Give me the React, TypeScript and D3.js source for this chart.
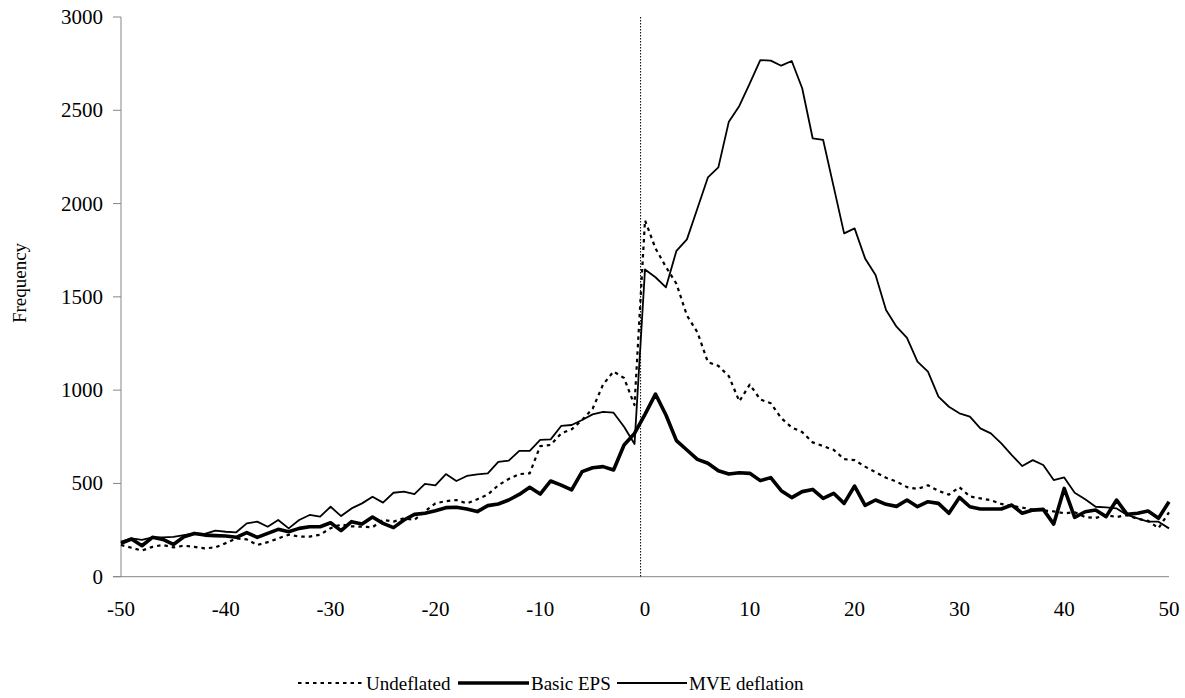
import React from "react";
import * as d3 from "d3";

const xValues: number[] = d3.range(-50, 51);

const undeflated: number[] = [
  170, 155, 140, 160, 170, 157, 166, 160, 152, 157,
  180, 205, 200, 170, 185, 205, 225, 215, 215, 225,
  260, 280, 270, 268, 265, 305, 295, 313, 305, 350,
  393, 405, 411, 393, 415, 440, 490, 524, 550, 554,
  700, 706, 768, 790, 840, 900, 1030, 1100, 1065, 920,
  1910,
  1760, 1660, 1570, 1400, 1310, 1150, 1130, 1075, 940, 1030,
  950, 930, 850, 800, 775, 720, 700, 680, 630, 625,
  590, 560, 530, 510, 480, 470, 490, 460, 440, 480,
  430, 420, 410, 390, 380, 370, 360, 355, 350, 340,
  345, 320, 315, 330, 320, 330, 310, 300, 260, 345,
];

const basicEPS: number[] = [
  179, 202, 166, 211, 200, 173, 214, 232, 223, 220,
  218, 211, 236, 211, 232, 254, 241, 259, 268, 268,
  289, 247, 295, 282, 320, 286, 263, 304, 334, 340,
  354, 370, 372, 363, 349, 381, 390, 411, 441, 479,
  443, 513, 491, 465, 563, 584, 590, 572, 706, 768,
  870,
  979, 867, 729, 679, 629, 608, 568, 550, 557, 554,
  515, 531, 461, 424, 456, 468, 420, 447, 393, 486,
  382, 411, 388, 377, 411, 375, 402, 393, 340, 425,
  375, 363, 363, 363, 384, 340, 357, 361, 282, 473,
  318, 348, 357, 322, 411, 334, 340, 352, 313, 402,
];

const mveDeflation: number[] = [
  188, 205, 197, 211, 211, 214, 223, 232, 229, 247,
  241, 238, 286, 295, 268, 304, 259, 304, 331, 322,
  375, 325, 366, 393, 429, 397, 450, 456, 443, 497,
  490, 550, 513, 540, 549, 554, 616, 622, 674, 674,
  733, 736, 808, 813, 840, 870, 884, 879, 804, 711,
  1647,
  1605, 1551, 1747, 1808, 1974, 2140, 2194, 2439, 2523, 2644,
  2769, 2766, 2739, 2764, 2618, 2350, 2341, 2091, 1840, 1867,
  1706, 1617, 1430, 1340, 1280, 1153, 1099, 965, 911, 876,
  858, 795, 768, 715, 652, 593, 625, 599, 518, 532,
  450, 415, 375, 372, 366, 331, 313, 295, 295, 259,
];

const yTicks: number[] = [0, 500, 1000, 1500, 2000, 2500, 3000];
const xTicks: number[] = [-50, -40, -30, -20, -10, 0, 10, 20, 30, 40, 50];
const seriesNames: string[] = ["Undeflated", "Basic EPS", "MVE deflation"];
const yLabel = "Frequency";

const W = 1185;
const H = 698;
const FONT = "'Liberation Serif', 'Times New Roman', serif";
const AXIS = "#868686";

export default function App() {
  const x = d3.scaleLinear().domain([-50, 50]).range([121, 1169]);
  const y = d3.scaleLinear().domain([0, 3000]).range([576.7, 17]);
  const line = d3
    .line<number>()
    .x((_, i) => x(xValues[i]))
    .y((d) => y(d));

  const styles = [
    { stroke: "#000", strokeWidth: 2.2, dash: "3.5,4" },
    { stroke: "#000", strokeWidth: 3.6, dash: undefined },
    { stroke: "#000", strokeWidth: 1.8, dash: undefined },
  ];
  const data = [undeflated, basicEPS, mveDeflation];

  const legendY = 683;
  const legendItems = [
    { sx0: 298, sx1: 364, tx: 366 },
    { sx0: 458, sx1: 529, tx: 531 },
    { sx0: 617, sx1: 687, tx: 689 },
  ];

  return (
    <svg
      width={W}
      height={H}
      style={{ position: "absolute", left: 0, top: 0, background: "#fff" }}
      fontFamily={FONT}
    >
      <rect x={0} y={0} width={W} height={H} fill="#fff" />
      <line x1={x(-50)} x2={x(-50)} y1={y(3000)} y2={y(0)} stroke={AXIS} strokeWidth={1} />
      {yTicks.map((t) => (
        <g key={t}>
          <line x1={x(-50) - 8} x2={x(-50)} y1={y(t)} y2={y(t)} stroke={AXIS} strokeWidth={1} />
          <text
            x={103}
            y={y(t)}
            textAnchor="end"
            dominantBaseline="central"
            fontSize={21}
            fill="#000"
          >
            {t}
          </text>
        </g>
      ))}
      <line x1={x(-50) - 8} x2={x(50)} y1={y(0)} y2={y(0)} stroke={AXIS} strokeWidth={1} />
      {xTicks.map((t) => (
        <text
          key={t}
          x={x(t)}
          y={609}
          textAnchor="middle"
          dominantBaseline="central"
          fontSize={21}
          fill="#000"
        >
          {t}
        </text>
      ))}
      <text
        transform={`translate(19,283) rotate(-90)`}
        textAnchor="middle"
        dominantBaseline="central"
        fontSize={19}
        fill="#000"
      >
        {yLabel}
      </text>
      <line
        x1={x(-0.42)}
        x2={x(-0.42)}
        y1={y(3000)}
        y2={y(0)}
        stroke="#000"
        strokeWidth={1}
        strokeDasharray="1.5,1.5"
      />
      {data.map((d, i) => (
        <path
          key={seriesNames[i]}
          d={line(d) || ""}
          fill="none"
          stroke={styles[i].stroke}
          strokeWidth={styles[i].strokeWidth}
          strokeDasharray={styles[i].dash}
          strokeLinejoin="round"
        />
      ))}
      {seriesNames.map((name, i) => (
        <g key={name}>
          <line
            x1={legendItems[i].sx0}
            x2={legendItems[i].sx1}
            y1={legendY}
            y2={legendY}
            stroke="#000"
            strokeWidth={styles[i].strokeWidth}
            strokeDasharray={styles[i].dash}
          />
          <text
            x={legendItems[i].tx}
            y={legendY}
            dominantBaseline="central"
            fontSize={19}
            fill="#000"
          >
            {name}
          </text>
        </g>
      ))}
    </svg>
  );
}
